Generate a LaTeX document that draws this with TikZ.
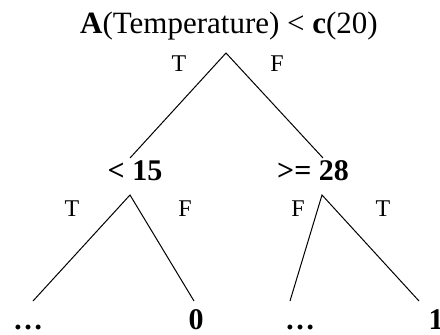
\documentclass[tikz,border=0pt]{standalone}
\usepackage{fontspec}
\setmainfont{Liberation Serif}
\begin{document}
\begin{tikzpicture}[x=1pt,y=-1pt,
  cond/.style={anchor=base,inner sep=0pt,font=\fontsize{31}{31}\selectfont},
  lab/.style={anchor=base,inner sep=0pt,font=\fontsize{24}{24}\selectfont},
  bnode/.style={anchor=base,inner sep=0pt,font=\fontsize{30}{30}\selectfont\bfseries},
  edge/.style={line width=1pt}]
\useasboundingbox (0,0) rectangle (440,335);
% texts
\node[cond] (root) at (229,33) {\textbf{A}(Temperature) < \textbf{c}(20)};
\node[lab] (rt) at (179,71) {T};
\node[lab] (rf) at (277,71) {F};
\node[bnode] (l) at (135,180) {< 15};
\node[bnode] (r) at (313,180) {>= 28};
\node[lab] (lt) at (72,216) {T};
\node[lab] (lf) at (185,216) {F};
\node[lab] (rrf) at (298,216) {F};
\node[lab] (rrt) at (383,216) {T};
\node[bnode] (ll) at (28,329) {…};
\node[bnode] (lr) at (196,329) {0};
\node[bnode] (rl) at (300,329) {…};
\node[bnode] (rr) at (436,329) {1};
% connector points
\coordinate (a0) at (226,53);
\coordinate (a0l) at (130,158);
\coordinate (a0r) at (323,158);
\coordinate (a1) at (130,195);
\coordinate (a1l) at (33,301);
\coordinate (a1r) at (194,301);
\coordinate (a2) at (322,195);
\coordinate (a2l) at (290,301);
\coordinate (a2r) at (419,301);
\draw[edge] (a0l) -- (a0) -- (a0r);
\draw[edge] (a1l) -- (a1) -- (a1r);
\draw[edge] (a2l) -- (a2) -- (a2r);
\end{tikzpicture}
\end{document}
